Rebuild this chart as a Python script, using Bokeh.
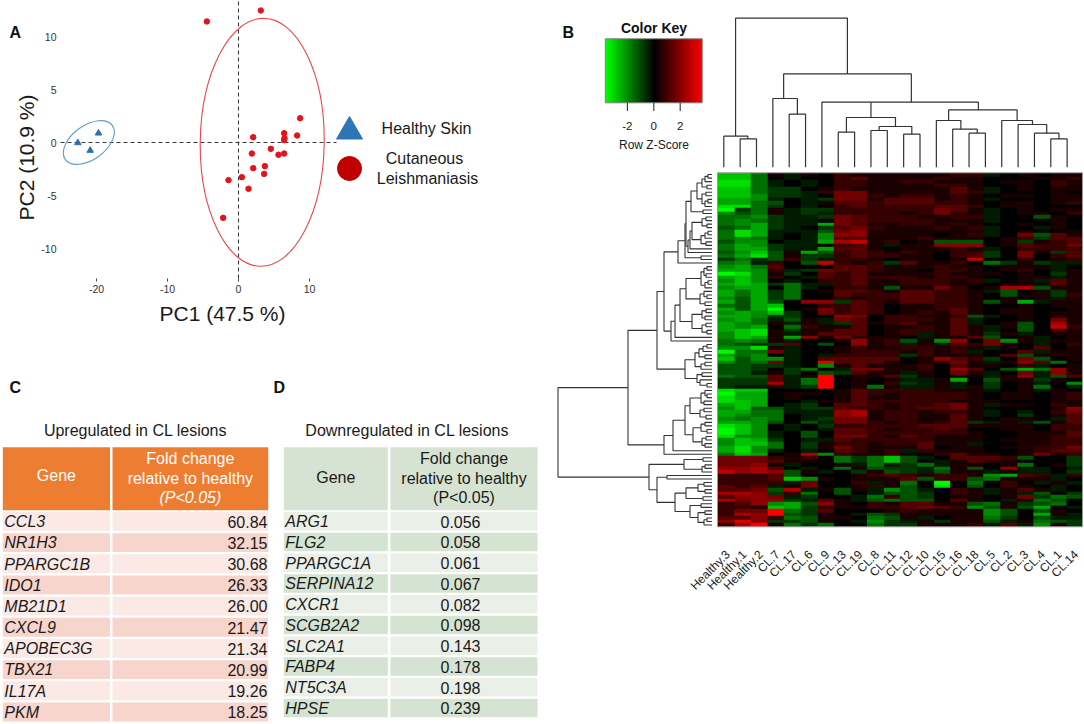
from bokeh.plotting import figure
from bokeh.layouts import row, column
from bokeh.models import Range1d, LinearColorMapper, FixedTicker
from bokeh.core.properties import value
from bokeh.embed import file_html
from bokeh.resources import INLINE
import numpy as np

FONT = value("Liberation Sans")
# ---------- Panel A data ----------
cl_pc1 = [-4.46, 3.14, 8.68, 6.43, 8.26, 2.07, 6.48, 6.43, 4.55, 1.88, 6.43, 5.63, 3.71, 2.07, 3.61, 0.47, -1.41, 1.41, -2.16]
cl_pc2 = [11.42, 12.45, 2.29, 0.88, 0.66, 0.50, 0.41, 0.22, -0.60, -1.04, -1.04, -1.16, -2.23, -2.42, -2.96, -3.27, -3.55, -4.37, -7.11]
hs_pc1 = [-19.72, -22.63, -20.89]
hs_pc2 = [0.88, -0.03, -0.75]
# ---------- Panel B data ----------
col_labels = ["Healthy.3", "Healthy.1", "Healthy.2", "CL.7", "CL.17", "CL.6", "CL.9", "CL.13", "CL.19", "CL.8", "CL.11",
              "CL.12", "CL.10", "CL.15", "CL.16", "CL.18", "CL.5", "CL.2", "CL.3", "CL.4", "CL.1", "CL.14"]
# one string per gene; a..i = green strength 1..9, 0 = black, 1..9 = red strength
heat_rows = """
ggd 1a10 2111 1112 2a01 011
ggd 0a00 2311 1121 1000 112
hhd a0a0 2211 2211 1011 021
hhd a0a0 2211 1122 1001 021
ggd bb01 2111 1113 1a01 011
ggd bba2 4411 1113 2a00 010
gge bba0 4421 2212 1011 011
ffe a0ab 4413 3312 1a00 011
ffd c0a1 3323 3322 1011 012
hhd b0a0 2322 2233 2011 000
ibd 1abb 2222 2243 1a01 011
ecd 1aba 2222 1242 1a01 102
dde baab 4322 2112 2a00 c10
ded baa0 4322 2211 1a00 010
def baaf 4311 2212 1001 010
cdf ba0b 3421 1121 2a00 a10
dhf aaac 4511 1111 1a01 001
dhf a0ae 5511 1101 2a04 c31
ded a0ae 3311 1211 1012 b33
cee 0aaf 6712 01cc c01b 123
dfe baa0 231a 1155 5013 224
dff baaf 3310 1112 1a02 222
ceg c1fc 2321 2102 2b04 1b3
dfh c1bb 2322 1102 3b04 023
bdb c2ba 2210 1101 7002 012
dea 20c7 212b 3112 0db1 baa
efd 3000 3321 1121 1011 1a0
ffe 2ab4 3321 1022 1012 0a1
ihe 1b03 2311 1121 1101 0b1
fge 20a3 2322 2122 1001 1a1
ege 0a02 2311 2221 2a01 a31
fgf bdaa 2311 2221 1011 131
eff 0da0 221c 1142 0166 c11
fdf bd01 3321 3322 1ac0 1b1
fdf bd00 3222 3322 10c1 1b2
ecf bd00 2122 3322 1010 1a1
fcf c055 b321 3322 1c1f a11
dcf g002 2320 1122 1001 011
fcf i014 2320 1123 1011 001
efe gb04 2320 1213 1011 011
ffe bb00 5402 2112 ca01 011
efd ac1a 4302 2213 a001 041
fed 1a1a b312 3113 a01c 061
fef 0d21 1301 1213 1a1c 072
fgh 1b11 3301 2213 1a0c 021
egh 1a13 3301 2a13 1b1a 011
egf 1f51 4211 0a11 3c01 a01
ded 1a00 1512 c1e5 04e1 a11
dcb b30c 0512 a1a3 2410 a02
eeh 1a00 1211 2212 1a10 301
idd 4a00 1222 1212 a003 a11
fde 0a0a 2222 b211 103c 111
gce ea03 3333 0153 2b04 c01
ecd 4a08 3331 0124 1a15 3d0
ccb ba0e 1311 1203 1102 a01
ccb 0bd0 a441 1205 30cf d51
cca 1b0c b311 a104 1a04 a51
dcc 3a19 0113 b101 1a15 ac3
bbb 3ad9 0101 aa1f 0c11 b10
bbb 6ad9 0102 ba1a 0b01 a0e
baa 1ab9 01d1 aa1a 1b01 d0a
hgg 0000 1322 2211 1a01 a10
iff 0110 1321 2222 1011 012
hff 0100 1311 2222 1011 012
hgf 00a1 1322 2221 1100 011
fgf 0ab0 3321 2234 1a11 021
egc cabb 3221 2334 1000 015
ffd daaa 5612 2122 1a0a 024
fed d0aa 5612 2113 1a0b 013
ede d0ab 4412 2113 1011 0a3
ffe c0ca 4421 2123 ba1a c13
hge 0a0b 2222 2333 1111 022
ige 0a0a 3321 2232 0011 022
ige a0c0 3322 2222 1001 113
hee a0c0 4421 3211 1001 123
egf b0aa 3222 2211 1011 122
egg d0b1 2212 2311 a001 122
fhe d0b1 4211 1301 1011 224
fhe a0a0 3212 a211 1001 233
dgf 016e 2112 1023 1101 412
444 2120 dbdg ca03 332c 00b
444 3110 dbdg c0a1 3210 00b
445 1a00 1ada bda1 101d 01b
556 30a0 d1cb bad1 c05a a0a
756 5c1a 0b1c bac1 1a1a a0b
222 3c00 0123 2122 1ef3 2a2
222 3ge1 0111 3c22 cd11 1a0
222 2a40 02a1 d0i0 d020 a1a
323 a140 0121 c0h0 c021 0a0
334 c6a1 c1ae ca02 1a13 1a0
665 b2d0 c0ac cb02 1a1a c0b
355 4ab0 0ad2 cb01 1014 bdc
645 5ba3 1acd cc03 10a1 dc0
235 efc5 1021 3311 cd1b cd0
221 gfb2 1122 3432 ec1c f0a
244 9db3 0001 2111 1ec0 c10
265 9cb1 0acb 1111 1ec0 f1a
335 2dc1 10dc 1a01 1db0 caa
585 bbc1 0aeb a1b1 1ca1 dcb
269 1dbd 00db b111 2a3a e1b
""".strip().split("\n")
# column dendrogram merges: leaf units and height
cd_left  = [1, 0, 4, 3, 7, 9, 11, 9.5, 7.5, 15, 14, 13, 20, 19, 18, 17, 13.75, 6, 9, 3.66, 0.72]
cd_right = [2, 1.47, 5, 4.5, 8, 10, 12, 11.5, 10.5, 16, 15.5, 14.5, 21, 20.5, 19.75, 18.88, 17.94, 15.57, 9, 11.47, 7.56]
cd_top   = [28.3, 31, 53, 68.7, 35, 36.7, 33, 40.7, 49.7, 34, 38, 46.7, 28.3, 34, 42.7, 46.7, 57.3, 65, 65, 93.3, 149]
cd_lbot  = [0, 0, 0, 0, 0, 0, 0, 36.7, 35, 0, 0, 0, 0, 0, 0, 0, 46.7, 0, 49.7, 68.7, 31]
cd_rbot  = [0, 28.3, 0, 53, 0, 0, 0, 33, 40.7, 0, 34, 38, 0, 28.3, 34, 42.7, 46.7, 57.3, 49.7, 65, 93.3]
# row dendrogram: (height, upper, lower); L is one gene
L = 0
a1 = (10, (7, (4, L, L), L), (5, L, L))
a2 = (10, (6, L, L), (7, (4, L, L), L))
a_ = (21, (15, a1, a2), (9, L, L))
b1 = (10, (6, L, L), (5, L, L))
b2 = (11, (7, (4, L, L), L), (6, L, L))
bb = (24, (22, (20, b1, b2), L), L)
T1 = (34, (27, (26, a_, bb), (11, L, L)), L)
d1 = (11, (8, (5, L, L), (6, L, L)), (7, (4, L, L), L))
d2 = (12, (8, L, (5, L, L)), (7, L, L))
d3 = (10, (6, L, L), (7, L, L))
d4 = (10, (6, L, L), (5, L, L))
X_ = (41, (37, (32, (26, d1, d2), (20, d3, d4)), L), L)
e1 = (17, (13, (9, (5, L, L), L), (7, L, L)), (11, (7, L, L), L))
e2 = (15, (10, L, L), (12, L, (5, L, L)))
g1 = (11, (7, L, (5, L, L)), (8, L, L))
g2 = (12, (8, L, L), (6, L, L))
g3 = (11, (7, L, L), (5, L, L))
g4 = (10, (6, L, L), (7, L, L))
q1 = (28, (9, L, L), (10, (7, L, L), L))
u_ = (26, (14, (8, L, L), (7, L, L)), (9, L, L))
v_ = (22, (11, L, L), (14, (7, L, L), (8, (5, L, L), L)))
row_tree = (154,
            (84, (55, (48, T1, X_), (27, e1, e2)), (48, (39, (27, (22, g1, g2), (19, g3, g4)), L), L)),
            (63, q1, (55, (45, L, L), (37, u_, v_))))
key_ticks = [-2, 0, 2]
# ---------- Panels C, D data ----------
up_genes = ["CCL3", "NR1H3", "PPARGC1B", "IDO1", "MB21D1", "CXCL9", "APOBEC3G", "TBX21", "IL17A", "PKM"]
up_fold = [60.84, 32.15, 30.68, 26.33, 26.00, 21.47, 21.34, 20.99, 19.26, 18.25]
down_genes = ["ARG1", "FLG2", "PPARGC1A", "SERPINA12", "CXCR1", "SCGB2A2", "SLC2A1", "FABP4", "NT5C3A", "HPSE"]
down_fold = [0.056, 0.058, 0.061, 0.067, 0.082, 0.098, 0.143, 0.178, 0.198, 0.239]

# ---------- Panel A ----------
XS, YS = 7.1, 10.6
pA = figure(width=550, height=368, output_backend="svg", toolbar_location=None,
            x_range=Range1d(-238 / XS, (550 - 238) / XS), y_range=Range1d(-(368 - 142) / YS, 142 / YS), min_border=0)
pA.outline_line_color = None
pA.grid.visible = False
pA.xaxis.ticker = FixedTicker(ticks=[-20, -10, 0, 10])
pA.yaxis.ticker = FixedTicker(ticks=[-10, -5, 0, 5, 10])
pA.xaxis.major_label_overrides = {-20: "-20", -10: "-10", 0: "0", 10: "10"}
pA.yaxis.major_label_overrides = {-10: "-10", -5: "-5", 0: "0", 5: "5", 10: "10"}
pA.xaxis.fixed_location = -(278 - 142) / YS
pA.yaxis.fixed_location = (60 - 238) / XS
for ax, st in ((pA.xaxis, 3), (pA.yaxis, 4)):
    ax.axis_line_color = None
    ax.major_tick_in = 0
    ax.minor_tick_line_color = None
    ax.major_label_text_font = "Liberation Sans"
    ax.major_label_text_font_size = "10.5px"
    ax.major_label_text_color = "#333333"
    ax.major_label_standoff = st
pA.xaxis.major_tick_out = 3
pA.xaxis.major_tick_line_color = "#444444"
pA.yaxis.major_tick_out = 0
pA.yaxis.major_tick_line_color = None
pA.segment(x0=[-25.07, 0], y0=[0, -12.83], x1=[13.8, 0], y1=[0, 13.4], line_color="#3a3a3a", line_width=1.1, line_dash="4 3")
pA.ellipse(x=3.34, y=0.02, width=17.46, height=23.4, angle=-0.014, fill_color=None, line_color="#E8474C", line_width=1.1)
pA.ellipse(x=-21.08, y=0, width=8.17, height=3.2, angle=0.63, fill_color=None, line_color="#5B9CC9", line_width=1.1)
pA.scatter(cl_pc1, cl_pc2, size=5.5, marker="circle", fill_color="#E3131B", line_color="#E3131B")
pA.scatter(hs_pc1, hs_pc2, size=6.5, marker="triangle", fill_color="#2A70AE", line_color="#2A70AE")
# panel A annotations live on pixel ranges of the figure
pA.extra_x_ranges["px"] = Range1d(0, 550)
pA.extra_y_ranges["px"] = Range1d(0, 368)
def ya(px):
    return 368 - px
pA.scatter([349], [ya(131)], x_range_name="px", y_range_name="px", marker="triangle", size=26, fill_color="#2E75B6", line_color="#2E75B6")
pA.scatter([349], [ya(168)], x_range_name="px", y_range_name="px", marker="circle", size=24, fill_color="#C00000", line_color="#C00000")
pA.text(x=[426, 424, 427], y=[ya(128), ya(158), ya(178)], text=["Healthy Skin", "Cutaneous", "Leishmaniasis"],
        x_range_name="px", y_range_name="px", text_font=FONT, text_font_size="16px", text_align="center",
        text_baseline="middle", text_color="#1a1a1a")
pA.text(x=[9], y=[ya(32)], text=["A"], x_range_name="px", y_range_name="px", text_font=FONT, text_font_style="bold",
        text_font_size="16px", text_align="left", text_baseline="middle", text_color="#111111")
pA.text(x=[222], y=[ya(313)], text=["PC1 (47.5 %)"], x_range_name="px", y_range_name="px", text_font=FONT,
        text_font_size="21px", text_align="center", text_baseline="middle", text_color="#1a1a1a")
pA.text(x=[26], y=[ya(157)], text=["PC2 (10.9 %)"], angle=np.pi / 2, x_range_name="px", y_range_name="px", text_font=FONT,
        text_font_size="21px", text_align="center", text_baseline="middle", text_color="#1a1a1a")

# ---------- Panels C, D ----------
pT = figure(width=550, height=356, output_backend="svg", toolbar_location=None, x_range=Range1d(0, 550), y_range=Range1d(724, 368),
            x_axis_location=None, y_axis_location=None, min_border=0)
pT.outline_line_color = None
pT.grid.visible = False
def table(genes, labels, top0, pitch, colL, colR, hdr, light, dark, txt, title, tx, valx, vala, italic_p, gene_dy):
    n = len(genes)
    tops = [top0 + pitch * i for i in range(n)]
    bots = [t + pitch - 2.3 for t in tops]
    fills = [light if i % 2 == 0 else dark for i in range(n)]
    for c in (colL, colR):
        pT.quad(left=c[0], right=c[1], top=446.7, bottom=509.8, fill_color=hdr, line_color=None)
        pT.quad(left=[c[0]] * n, right=[c[1]] * n, top=tops, bottom=bots, fill_color=fills, line_color=None)
    mids = [t + (pitch - 2.3) / 2 + 0.3 for t in tops]
    pT.text(x=[colL[0] + 1.5] * n, y=mids, text=genes, text_font=FONT, text_font_style="italic", text_font_size="16px",
            text_baseline="middle", text_color="#1a1a1a")
    pT.text(x=[valx] * n, y=mids, text=labels, text_font=FONT, text_font_size="16px", text_align=vala,
            text_baseline="middle", text_color="#1a1a1a")
    cm = (colL[0] + colL[1]) / 2
    cc = (colR[0] + colR[1]) / 2
    pT.text(x=[tx], y=[430], text=[title], text_font=FONT, text_font_size="16px", text_align="center", text_baseline="middle", text_color="#1a1a1a")
    pT.text(x=[cm], y=[477 + gene_dy], text=["Gene"], text_font=FONT, text_font_size="16px", text_align="center", text_baseline="middle", text_color=txt)
    pT.text(x=[cc, cc], y=[458, 477.5], text=["Fold change", "relative to healthy"], text_font=FONT, text_font_size="16px",
            text_align="center", text_baseline="middle", text_color=txt)
    pT.text(x=[cc], y=[497], text=["(P<0.05)"], text_font=FONT, text_font_size="16px", text_font_style="italic" if italic_p else "normal",
            text_align="center", text_baseline="middle", text_color=txt)
table(up_genes, [f"{v:.2f}" for v in up_fold], 511.5, 21.17, (2.3, 109.5), (112, 267.7), "#ED7D31", "#FBE9E5", "#F7D4CC", "#FFFFFF",
      "Upregulated in CL lesions", 135, 267, "right", True, -2)
table(down_genes, [f"{v:.3f}" for v in down_fold], 511.5, 20.76, (283.3, 387.3), (390, 537), "#D6E3D3", "#EAF0E8", "#D5E3D2", "#1a1a1a",
      "Downregulated in CL lesions", 406.7, 460, "center", False, 0)
pT.text(x=[9, 273], y=[387, 387], text=["C", "D"], text_font=FONT, text_font_style="bold", text_font_size="16px", text_baseline="middle", text_color="#111111")

# ---------- Panel B ----------
PX0, PX1 = 550, 1084
HX0, HW = 717.0, 16.59
HY0, HH = 172.3, 3.54
ny, nx = len(heat_rows), len(col_labels)
CODES = {"0": 0}
for i, ch in enumerate("abcdefghi"):
    CODES[ch] = -(i + 1)
    CODES[str(i + 1)] = i + 1
Z = np.array([[CODES[c] * 0.4 for c in r.replace(" ", "")[:nx].ljust(nx, "0")] for r in heat_rows])
pal = []
for t in np.linspace(-1, 1, 256):
    pal.append("#%02x%02x%02x" % (int(255 * max(t, 0)), int(255 * max(-t, 0)), 0))
mapper = LinearColorMapper(palette=pal, low=-3.67, high=3.67)
pB = figure(width=PX1 - PX0, height=724, output_backend="svg", toolbar_location=None,
            x_range=Range1d((PX0 - HX0) / HW, (PX1 - HX0) / HW),
            y_range=Range1d(ny - (724 - HY0) / HH, ny + HY0 / HH),
            x_axis_location=None, y_axis_location=None, min_border=0)
pB.outline_line_color = None
pB.grid.visible = False
pB.extra_x_ranges["px"] = Range1d(PX0, PX1)
pB.extra_y_ranges["px"] = Range1d(0, 724)
pB.extra_x_ranges["key"] = Range1d((PX0 - 653.3) / 13.2, (PX1 - 653.3) / 13.2)
pB.extra_x_ranges["cd"] = Range1d((PX0 - 723.3) / 16.35, (PX1 - 723.3) / 16.35)
pB.extra_y_ranges["cdh"] = Range1d(166.7 - 724, 166.7)
pB.extra_x_ranges["rd"] = Range1d(711.5 - PX0, 711.5 - PX1)
def yb(px):
    return 724 - px
pB.image(image=[np.flipud(Z)], x=0, y=0, dw=nx, dh=ny, color_mapper=mapper)
pB.quad(left=0, right=nx, bottom=0, top=ny, fill_color=None, line_color="#9a9a9a", line_width=1)
# column dendrogram
pB.multi_line(xs=[[l, l, r, r] for l, r in zip(cd_left, cd_right)],
              ys=[[a, t, t, b] for a, t, b in zip(cd_lbot, cd_top, cd_rbot)],
              x_range_name="cd", y_range_name="cdh", line_color="#333333", line_width=1.2)
# row dendrogram
xs_r, ys_r = [], []
counter = [0]
def walk(node):
    if node == L:
        pos = ny - counter[0] - 0.5
        counter[0] += 1
        return 0, pos
    h, a, b = node
    ha, pa = walk(a)
    hb, pb_ = walk(b)
    xs_r.append([ha, h, h, hb])
    ys_r.append([pa, pa, pb_, pb_])
    return h, (pa + pb_) / 2
walk(row_tree)
pB.multi_line(xs=xs_r, ys=ys_r, x_range_name="rd", line_color="#333333", line_width=1.1)
# column labels
pB.text(x=[j + 0.62 for j in range(nx)], y=[ny - (552 - HY0) / HH] * nx, text=col_labels, angle=np.pi / 4,
        text_font=FONT, text_font_size="12px", text_align="right", text_baseline="middle", text_color="#1a1a1a")
# colour key
key_vals = np.linspace(-3.67, 3.67, 256).reshape(1, 256)
pB.image(image=[key_vals], x=-3.67, y=yb(102.3), dw=7.34, dh=64, color_mapper=mapper, x_range_name="key", y_range_name="px")
pB.quad(left=-3.67, right=3.67, bottom=yb(102.3), top=yb(38.3), fill_color=None, line_color="#808080", line_width=1, x_range_name="key", y_range_name="px")
pB.segment(x0=key_ticks, x1=key_ticks, y0=[yb(102.3)] * 3, y1=[yb(110.5)] * 3, line_color="#333333", line_width=1.1, x_range_name="key", y_range_name="px")
pB.text(x=key_ticks, y=[yb(125)] * 3, text=[str(t) for t in key_ticks], text_font=FONT, text_font_size="11.5px", text_align="center",
        text_baseline="middle", text_color="#1a1a1a", x_range_name="key", y_range_name="px")
pB.text(x=[653.5], y=[yb(144.5)], text=["Row Z-Score"], text_font=FONT, text_font_size="12px", text_align="center", text_baseline="middle",
        text_color="#1a1a1a", x_range_name="px", y_range_name="px")
pB.text(x=[653.5], y=[yb(27.5)], text=["Color Key"], text_font=FONT, text_font_size="14px", text_font_style="bold", text_align="center",
        text_baseline="middle", text_color="#111111", x_range_name="px", y_range_name="px")
pB.text(x=[562], y=[yb(32)], text=["B"], text_font=FONT, text_font_size="16px", text_font_style="bold", text_baseline="middle",
        text_color="#111111", x_range_name="px", y_range_name="px")

root = row(column(row(pA, margin=0), row(pT, margin=0), spacing=0, margin=0), pB, spacing=0, margin=0)
open("out.html", "w").write(file_html(root, INLINE))
